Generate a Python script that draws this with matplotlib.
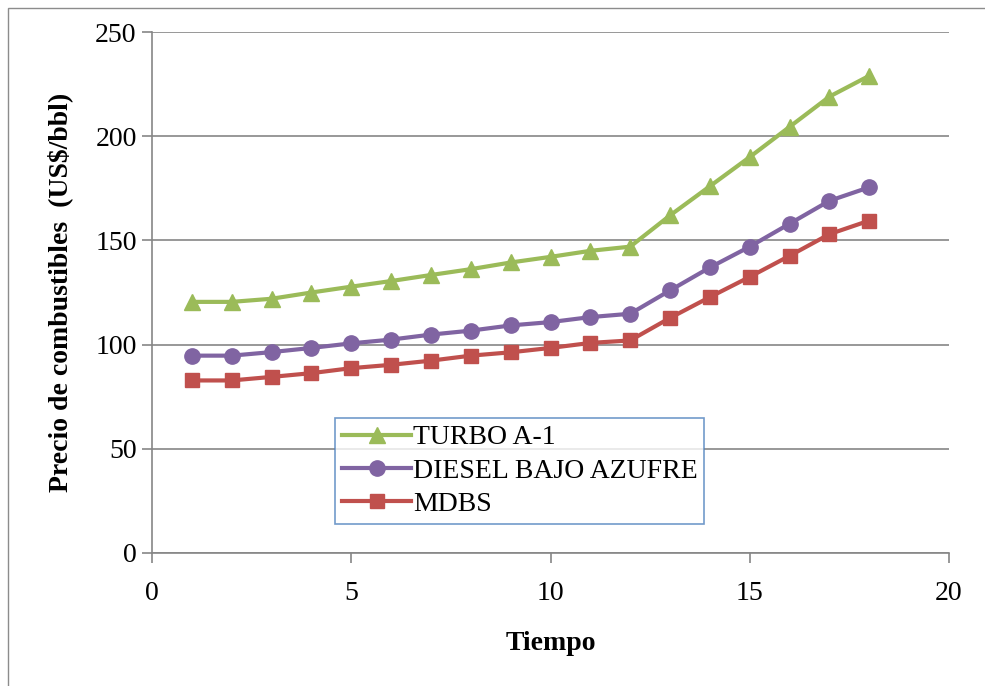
import matplotlib
matplotlib.use("Agg")
import matplotlib.pyplot as plt
from matplotlib.patches import Rectangle

tiempo = list(range(1, 19))
turbo = [120.5, 120.5, 122, 125, 127.8, 130.5, 133.4, 136.2, 139.4, 142.1,
         145, 147, 162, 176, 190, 204.5, 219, 229]
diesel = [94.7, 94.7, 96.4, 98.4, 100.6, 102.4, 104.8, 106.7, 109.2, 110.8,
          113.2, 114.8, 126, 137, 147, 158, 169, 175.5]
mdbs = [82.8, 82.8, 84.5, 86.3, 88.7, 90.3, 92.3, 94.7, 96.3, 98.4,
        100.8, 102, 112.8, 122.8, 132.5, 142.6, 153, 159.5]
labels = ["TURBO A-1", "DIESEL BAJO AZUFRE", "MDBS"]
xticks = [0, 5, 10, 15, 20]
yticks = [0, 50, 100, 150, 200, 250]

plt.rcParams['font.family'] = ['Liberation Serif', 'DejaVu Serif']

W, H = 985, 686
fig = plt.figure(figsize=(W / 100, H / 100), dpi=100)
ax = fig.add_axes([152 / W, 1 - 553 / H, (949 - 152) / W, (553 - 32) / H])

# outer border
fig.add_artist(Rectangle((8 / W, -0.01), 1.0, 1 - 8 / H + 0.01, transform=fig.transFigure,
                         fill=False, edgecolor='#8c8c8c', linewidth=1.0))

gray = '#868686'
ax.plot(tiempo, turbo, color='#9BBB59', marker='^', markersize=11, linewidth=3, label=labels[0])
ax.plot(tiempo, diesel, color='#8064A2', marker='o', markersize=11, linewidth=3, label=labels[1])
ax.plot(tiempo, mdbs, color='#C0504D', marker='s', markersize=10, linewidth=3, label=labels[2])

ax.set_xlim(0, 20)
ax.set_ylim(0, 250)
ax.set_xticks(xticks)
ax.set_yticks(yticks)
ax.yaxis.grid(True, color=gray, linewidth=1.2)
ax.set_axisbelow(True)
for s in ['top', 'right']:
    ax.spines[s].set_visible(False)
for s in ['left', 'bottom']:
    ax.spines[s].set_color(gray)
    ax.spines[s].set_linewidth(1.2)
ax.tick_params(axis='both', direction='out', color=gray, length=7, width=1.2,
               labelsize=20, colors='black')
ax.tick_params(axis='y', pad=4)
ax.tick_params(axis='x', pad=13)
for t in ax.get_xticklabels() + ax.get_yticklabels():
    t.set_color('black')

ax.set_xlabel('Tiempo', fontsize=20, fontweight='bold', labelpad=18)
ax.set_ylabel('Precio de combustibles  (US$/bbl)', fontsize=20, fontweight='bold', labelpad=16)

leg = ax.legend(loc='upper left', bbox_to_anchor=((335 - 152) / (949 - 152), (553 - 418) / (553 - 32)),
                fontsize=20, frameon=True, fancybox=False, borderpad=0.25, labelspacing=0.28,
                handlelength=2.5, handletextpad=0.05, borderaxespad=0)
leg.get_frame().set_edgecolor('#4F81BD')
leg.get_frame().set_linewidth(1.2)

fig.savefig('out.png', dpi=100)
